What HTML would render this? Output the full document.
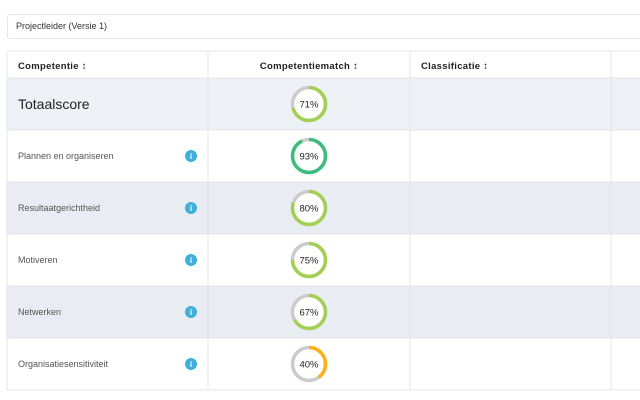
<!DOCTYPE html>
<html><head><meta charset="utf-8"><style>
body{margin:0;width:640px;height:400px;overflow:hidden;background:#fff;font-family:"Liberation Sans",sans-serif;position:relative}
.abs{position:absolute}
</style></head><body>
<div class="abs" style="left:7px;top:14px;width:640px;height:25px;border:1px solid #e3e6ea;border-radius:3px;box-sizing:border-box;font-size:9px;color:#333;line-height:23px;padding-left:8px">Projectleider (Versie 1)</div>
<svg class="abs" style="left:0;top:0" width="640" height="400">
<g id="tbl"></g>
</svg>
<script>
const competencies=["Totaalscore","Plannen en organiseren","Resultaatgerichtheid","Motiveren","Netwerken","Organisatiesensitiviteit"];
const matchValues=[71,93,80,75,67,40];
const headers=["Competentie ↕","Competentiematch ↕","Classificatie ↕"];
const NS="http://www.w3.org/2000/svg";
const g=document.getElementById('tbl');
function el(t,a,p){const e=document.createElementNS(NS,t);for(const k in a)e.setAttribute(k,a[k]);(p||g).appendChild(e);return e;}
const top0=51,headH=27,rowH=52,cols=[7,208,410,611,650];
function color(v){return v>=90?'#3dbd7d':v>=50?'#a3d053':'#fbb117';}
// header
const hb=el('rect',{x:7,y:top0,width:640,height:headH,fill:'#fff',stroke:'#e6e9ed'});


const hx=[18,309,421],anchors=['start','middle','start'];
headers.forEach((h,i)=>{const t=el('text',{x:hx[i],y:top0+18,'font-size':9.5,'font-weight':'bold','text-anchor':anchors[i],fill:'#222','letter-spacing':'0.3'});t.textContent=h;

});
competencies.forEach((c,i)=>{
 const y=top0+headH+i*rowH;
 const bg=(i%2==0)?'#eef1f5':'#fff';
 const r=el('rect',{x:7,y:y,width:640,height:rowH,fill:i==0?'#eef2f6':(i%2==1?'#fff':'#e9ecf2'),stroke:'#e3e6ea'});
 
 
 const t=el('text',{x:18,y:y+rowH/2+(i==0?5:3),'font-size':i==0?14:9,fill:i==0?'#222':'#555'});t.textContent=c;
 
 
 if(i>0){const ic=el('circle',{cx:191,cy:y+rowH/2,r:6,fill:'#3fb0d9'});
  
  
  const it=el('text',{x:191,y:y+rowH/2+3,'font-size':8,'font-weight':'bold','text-anchor':'middle',fill:'#fff'});it.textContent='i';}
 const cx=309,cy=y+rowH/2,R=16.5,C=2*Math.PI*R,v=matchValues[i];
 el('circle',{cx,cy,r:R,fill:'#fff',stroke:'#cccccc','stroke-width':3.5});
 const arc=el('circle',{cx,cy,r:R,fill:'none',stroke:color(v),'stroke-width':3.5,'stroke-dasharray':(C*v/100)+' '+C,transform:`rotate(-90 ${cx} ${cy})`});
 
 
 const vt=el('text',{x:cx,y:cy+3.5,'font-size':9.5,'text-anchor':'middle',fill:'#222'});vt.textContent=v+'%';
 
 
});
[208,410,611].forEach(x=>el('line',{x1:x,y1:top0,x2:x,y2:top0+headH+rowH*competencies.length,stroke:'#e3e6ea'}));
</script>
</body></html>
